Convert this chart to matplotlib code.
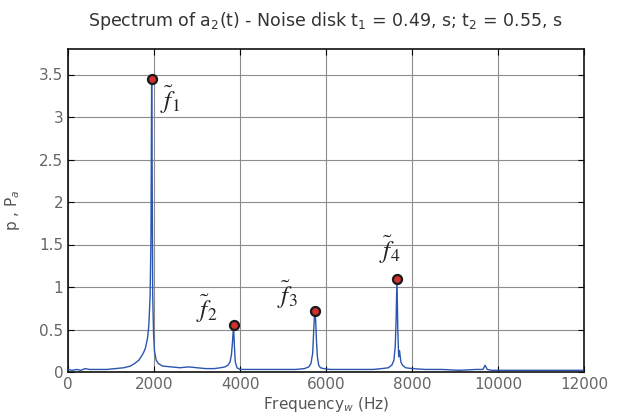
import matplotlib
matplotlib.use("Agg")
import matplotlib.pyplot as plt

# spectrum (Hz, amplitude)
freq = [0, 100, 200, 300, 400, 500, 700, 900, 1100, 1300, 1450, 1550, 1650, 1750, 1800,
        1850, 1880, 1910, 1930, 1945, 1955, 1970, 1990, 2010, 2050, 2100, 2200, 2400,
        2600, 2800, 3000, 3200, 3400, 3550, 3650, 3720, 3770, 3800, 3825, 3850, 3870,
        3890, 3930, 4000, 4200, 4600, 5000, 5300, 5500, 5600, 5650, 5690, 5720, 5740,
        5760, 5780, 5800, 5830, 5870, 5950, 6100, 6400, 6800, 7100, 7300, 7450, 7530,
        7580, 7610, 7630, 7650, 7670, 7690, 7710, 7740, 7780, 7850, 8000, 8300, 8700,
        9100, 9500, 9650, 9700, 9750, 9850, 10200, 10800, 11400, 12000]
amp = [0.03, 0.02, 0.03, 0.02, 0.04, 0.03, 0.03, 0.03, 0.04, 0.05, 0.07, 0.10, 0.14, 0.22, 0.28,
       0.40, 0.55, 0.90, 1.60, 3.45, 2.60, 0.90, 0.45, 0.25, 0.14, 0.10, 0.07, 0.06,
       0.05, 0.06, 0.05, 0.04, 0.04, 0.05, 0.06, 0.08, 0.12, 0.20, 0.35, 0.55, 0.30,
       0.12, 0.05, 0.03, 0.03, 0.03, 0.03, 0.03, 0.04, 0.06, 0.10, 0.22, 0.55, 0.72,
       0.60, 0.35, 0.18, 0.08, 0.05, 0.04, 0.03, 0.03, 0.03, 0.03, 0.04, 0.05, 0.08,
       0.14, 0.30, 0.60, 1.10, 0.50, 0.18, 0.25, 0.12, 0.08, 0.05, 0.04, 0.03, 0.03,
       0.02, 0.03, 0.03, 0.08, 0.03, 0.02, 0.02, 0.02, 0.02, 0.02]

peak_f = [1945, 3850, 5740, 7650]
peak_a = [3.45, 0.55, 0.72, 1.10]
peak_lbl = [r"$\tilde{f}_1$", r"$\tilde{f}_2$", r"$\tilde{f}_3$", r"$\tilde{f}_4$"]
# label offsets in points (dx, dy)
lbl_off = [(6, -27), (-27, 0), (-27, 0), (-13, 9)]

xticks = [0, 2000, 4000, 6000, 8000, 10000, 12000]
yticks = [0, 0.5, 1, 1.5, 2, 2.5, 3, 3.5]

fig = plt.figure(figsize=(6.26, 4.18), dpi=100)
ax = fig.add_axes([68 / 626, 1 - 372 / 418, (584 - 68) / 626, (372 - 49) / 418])

ax.plot(freq, amp, color="#2b55b0", lw=1.0, zorder=3)
ax.plot(peak_f, peak_a, "o", ms=6.5, mfc="#d03030", mec="#1a1a1a", mew=1.6, zorder=4)

for x, y, s, (dx, dy) in zip(peak_f, peak_a, peak_lbl, lbl_off):
    ax.annotate(s, (x, y), xytext=(dx, dy), textcoords="offset points",
                fontsize=18, color="#222222", ha="left", va="bottom",
                math_fontfamily="stix")

ax.set_xlim(0, 12000)
ax.set_ylim(0, 3.8)
ax.set_xticks(xticks)
ax.set_yticks(yticks)
ax.set_xticklabels([str(t) for t in xticks])
ax.set_yticklabels(["0", "0.5", "1", "1.5", "2", "2.5", "3", "3.5"])
ax.grid(True, color="#8c8c8c", lw=0.8)
ax.set_axisbelow(True)
ax.tick_params(direction="in", length=4, labelsize=11, labelcolor="#666666",
               top=True, right=True, width=0.8)
for sp in ax.spines.values():
    sp.set_color("#111111")
    sp.set_linewidth(1.2)

ax.set_xlabel(r"Frequency$_w$ (Hz)", fontsize=11, color="#555555", labelpad=2)
ax.set_ylabel(r"p , P$_a$", fontsize=11, color="#555555", labelpad=12)
fig.text(0.52, 0.95, r"Spectrum of a$_2$(t) - Noise disk t$_1$ = 0.49, s; t$_2$ = 0.55, s",
         ha="center", va="center", fontsize=12.5, color="#333333")

fig.savefig("out.png", dpi=100)
